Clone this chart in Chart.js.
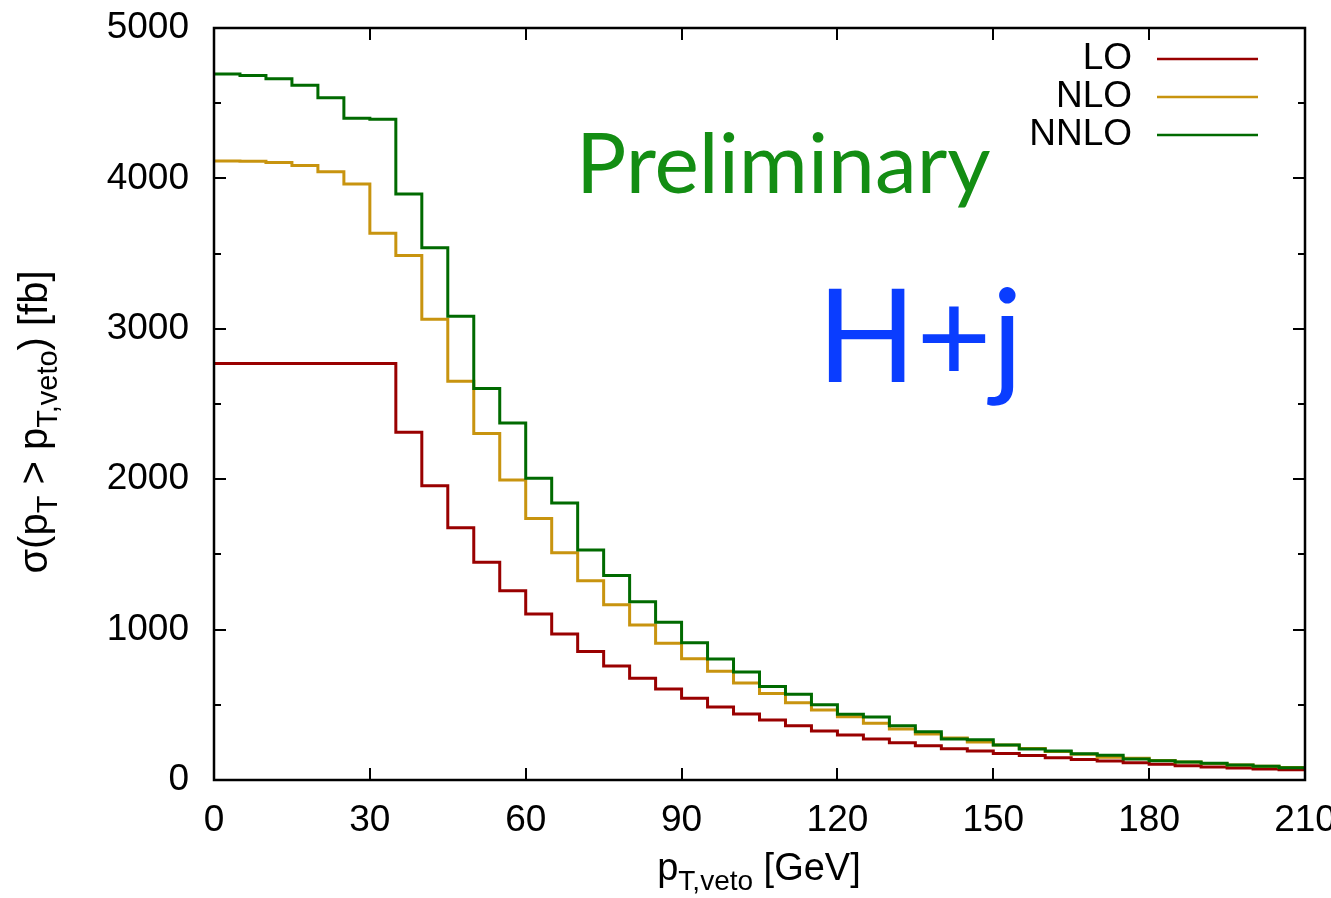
<!DOCTYPE html>
<html>
<head>
<meta charset="utf-8">
<script src="https://cdn.jsdelivr.net/npm/chart.js@4.4.0/dist/chart.umd.min.js"></script>
<style>
  body { margin: 0; background: #fff; }
  #wrap { width: 1331px; height: 898px; }
</style>
</head>
<body>
<div id="wrap"><canvas id="myChart" width="1331" height="898"></canvas></div>
<script>
// bin edges of p_T,veto [GeV]
var binEdges = [0, 5, 10, 15, 20, 25, 30, 35, 40, 45, 50, 55, 60, 65, 70, 75, 80, 85, 90, 95, 100,
    105, 110, 115, 120, 125, 130, 135, 140, 145, 150, 155, 160, 165, 170, 175, 180, 185, 190, 195, 200, 205, 210];

// sigma(pT > pT,veto) [fb], one value per bin
var lo = [2770, 2770, 2770, 2770, 2770, 2770, 2770, 2312, 1957, 1678, 1447, 1258, 1103, 971, 855, 758,
    676, 605, 543, 485, 439, 399, 361, 326, 299, 273, 248, 228, 208, 193, 177, 163, 148, 137, 126, 115,
    104, 95, 86, 80, 73, 68];
var nlo = [4116, 4114, 4105, 4085, 4045, 3963, 3635, 3488, 3064, 2652, 2304, 1995, 1738, 1511, 1324, 1165,
    1030, 910, 807, 723, 645, 575, 514, 465, 421, 377, 339, 306, 279, 253, 233, 210, 190, 172, 152, 145,
    130, 120, 110, 100, 91, 83];
var nnlo = [4694, 4685, 4663, 4619, 4537, 4400, 4393, 3896, 3539, 3084, 2603, 2373, 2006, 1841, 1530, 1359,
    1186, 1049, 913, 805, 718, 622, 570, 501, 437, 419, 361, 321, 273, 268, 233, 206, 193, 175, 164, 140,
    128, 120, 111, 100, 91, 82];

var xTicks = [0, 30, 60, 90, 120, 150, 180, 210];
var yTicks = [0, 1000, 2000, 3000, 4000, 5000];

var sans = '"Liberation Sans", Arial, Helvetica, sans-serif';

// histogram -> step points (last value repeated at the upper edge)
function steps(vals) {
    return binEdges.map(function (x, i) {
        return { x: x, y: vals[Math.min(i, vals.length - 1)] };
    });
}

// draw text with subscript parts, e.g. [['p'], ['T,veto', true]]
function richText(ctx, parts, x, y, size, subSize, subDrop) {
    var w = 0;
    parts.forEach(function (p) {
        ctx.font = (p[1] ? subSize : size) + 'px ' + sans;
        w += ctx.measureText(p[0]).width;
    });
    var cx = x - w / 2;
    parts.forEach(function (p) {
        ctx.font = (p[1] ? subSize : size) + 'px ' + sans;
        ctx.fillText(p[0], cx, p[1] ? y + subDrop : y);
        cx += ctx.measureText(p[0]).width;
    });
}

var decor = {
    id: 'decor',
    afterDraw: function (chart) {
        var ctx = chart.ctx;
        var a = chart.chartArea;
        var xs = chart.scales.x, ys = chart.scales.y;
        ctx.save();

        // frame and inward ticks (gnuplot style)
        ctx.strokeStyle = '#000';
        ctx.lineWidth = 2.5;
        ctx.strokeRect(a.left, a.top, a.right - a.left, a.bottom - a.top);
        ctx.lineWidth = 2;
        ctx.beginPath();
        for (var v = 0; v <= 5000; v += 500) {
            var py = Math.round(ys.getPixelForValue(v));
            var len = v % 1000 === 0 ? 12 : 7;
            ctx.moveTo(a.left, py); ctx.lineTo(a.left + len, py);
            ctx.moveTo(a.right, py); ctx.lineTo(a.right - len, py);
        }
        xTicks.forEach(function (t) {
            var px = Math.round(xs.getPixelForValue(t));
            ctx.moveTo(px, a.bottom); ctx.lineTo(px, a.bottom - 12);
            ctx.moveTo(px, a.top); ctx.lineTo(px, a.top + 12);
        });
        ctx.stroke();

        // legend: label left of the line sample
        ctx.textAlign = 'right';
        ctx.textBaseline = 'middle';
        ctx.font = '37px ' + sans;
        chart.data.datasets.forEach(function (ds, i) {
            var yy = 59 + i * 38;
            ctx.fillStyle = '#000';
            ctx.fillText(ds.label, 1132, yy);
            ctx.strokeStyle = ds.borderColor;
            ctx.lineWidth = 2.5;
            ctx.beginPath();
            ctx.moveTo(1157, yy);
            ctx.lineTo(1258, yy);
            ctx.stroke();
        });

        // annotations
        ctx.textAlign = 'left';
        ctx.textBaseline = 'alphabetic';
        ctx.fillStyle = '#138d13';
        ctx.font = '84px Lato, sans-serif';
        ctx.fillText('Preliminary', 576, 193);
        ctx.fillStyle = '#0a3dff';
        ctx.font = '130px Lato, sans-serif';
        ctx.fillText('H+j', 817, 382);

        // axis titles
        ctx.fillStyle = '#000';
        richText(ctx, [['p'], ['T,veto', true], [' [GeV]']], 759, 880, 38, 28, 10);
        ctx.translate(47, 422);
        ctx.rotate(-Math.PI / 2);
        richText(ctx, [['σ(p'], ['T', true], [' > p'], ['T,veto', true], [') [fb]']], 0, 0, 40, 29, 10);
        ctx.restore();
    }
};

var ctx = document.getElementById('myChart').getContext('2d');
var myChart = new Chart(ctx, {
    type: 'line',
    data: {
        datasets: [
            { label: 'LO', data: steps(lo), borderColor: '#990000', order: 3 },
            { label: 'NLO', data: steps(nlo), borderColor: '#c8940f', order: 2 },
            { label: 'NNLO', data: steps(nnlo), borderColor: '#006a00', order: 1 }
        ]
    },
    options: {
        responsive: false,
        animation: false,
        layout: { padding: { left: 0, right: 26, top: 28, bottom: 0 } },
        elements: {
            line: { stepped: 'before', borderWidth: 3, tension: 0, fill: false },
            point: { radius: 0, hoverRadius: 0 }
        },
        plugins: { legend: { display: false }, tooltip: { enabled: false } },
        scales: {
            x: {
                type: 'linear', min: 0, max: 210,
                afterBuildTicks: function (s) { s.ticks = xTicks.map(function (v) { return { value: v }; }); },
                afterFit: function (s) { s.height = 118; s.paddingLeft = 0; s.paddingRight = 0; },
                grid: { display: false },
                border: { display: false },
                ticks: {
                    color: '#000', font: { family: sans, size: 37 }, padding: 11, maxRotation: 0, autoSkip: false,
                    callback: function (v) { return String(v); }
                }
            },
            y: {
                type: 'linear', min: 0, max: 5000,
                afterBuildTicks: function (s) { s.ticks = yTicks.map(function (v) { return { value: v }; }); },
                afterFit: function (s) { s.width = 214; s.paddingTop = 0; s.paddingBottom = 0; },
                grid: { display: false },
                border: { display: false },
                ticks: {
                    color: '#000', font: { family: sans, size: 37 }, padding: 17,
                    callback: function (v) { return String(v); }
                }
            }
        }
    },
    plugins: [decor]
});
</script>
</body>
</html>
